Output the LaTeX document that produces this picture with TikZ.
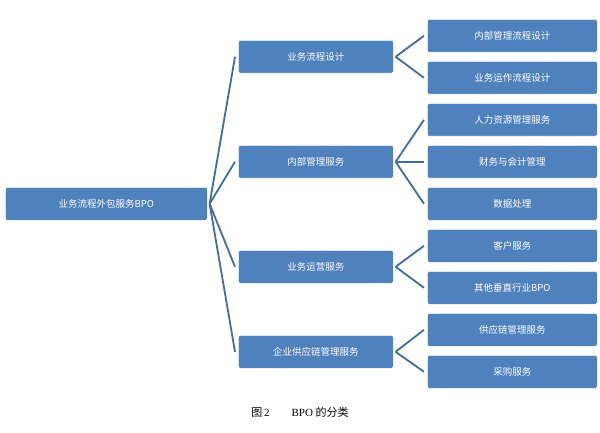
\documentclass[tikz,border=0pt]{standalone}
\usepackage{fontspec}
\setmainfont{Liberation Serif}
\newfontfamily\cjk{Noto Sans CJK SC}
\definecolor{boxblue}{RGB}{79,129,189}
\definecolor{lineblue}{RGB}{65,108,162}
\tikzset{
  box/.style={draw=white,line width=0.6pt,fill=boxblue,rounded corners=1.5pt,
    text=white,font=\cjk\fontsize{9.5}{11}\selectfont,anchor=north west,inner sep=0pt},
  link/.style={draw=lineblue,line width=1.8pt}
}
\begin{document}
\begin{tikzpicture}[x=1pt,y=-1pt]
\useasboundingbox (0,0) rectangle (600,433);
% root
\node[box,minimum width=202pt,minimum height=33pt] (bpo) at (5,187) {业务流程外包服务BPO};
% second level
\node[box,minimum width=155pt,minimum height=33pt] (design) at (238,40) {业务流程设计};
\node[box,minimum width=155pt,minimum height=33pt] (inner) at (238,145) {内部管理服务};
\node[box,minimum width=155pt,minimum height=33pt] (ops) at (238,250) {业务运营服务};
\node[box,minimum width=155pt,minimum height=33pt] (chain) at (238,335) {企业供应链管理服务};
% third level
\foreach \name/\y/\txt in {da/19/内部管理流程设计, db/61/业务运作流程设计,
  ia/103/人力资源管理服务, ib/145/财务与会计管理, ic/187/数据处理,
  oa/229/客户服务, ob/271/其他垂直行业BPO,
  ca/313/供应链管理服务, cb/355/采购服务}
  \node[box,minimum width=170pt,minimum height=33pt] (\name) at (427,\y) {\txt};
% connectors
\foreach \c in {design,inner,ops,chain}
  \draw[link] ([xshift=2pt]bpo.east) -- ([xshift=-3pt]\c.west);
\foreach \p/\c in {design/da,design/db,inner/ia,inner/ib,inner/ic,
  ops/oa,ops/ob,chain/ca,chain/cb}
  \draw[link] ([xshift=2pt]\p.east) -- ([xshift=-3pt]\c.west);
% caption
\node[font=\fontsize{11}{13}\selectfont] (cap) at (300,412) {{\cjk 图}\,2\hspace{2em}BPO {\cjk 的分类}};
\end{tikzpicture}
\end{document}
